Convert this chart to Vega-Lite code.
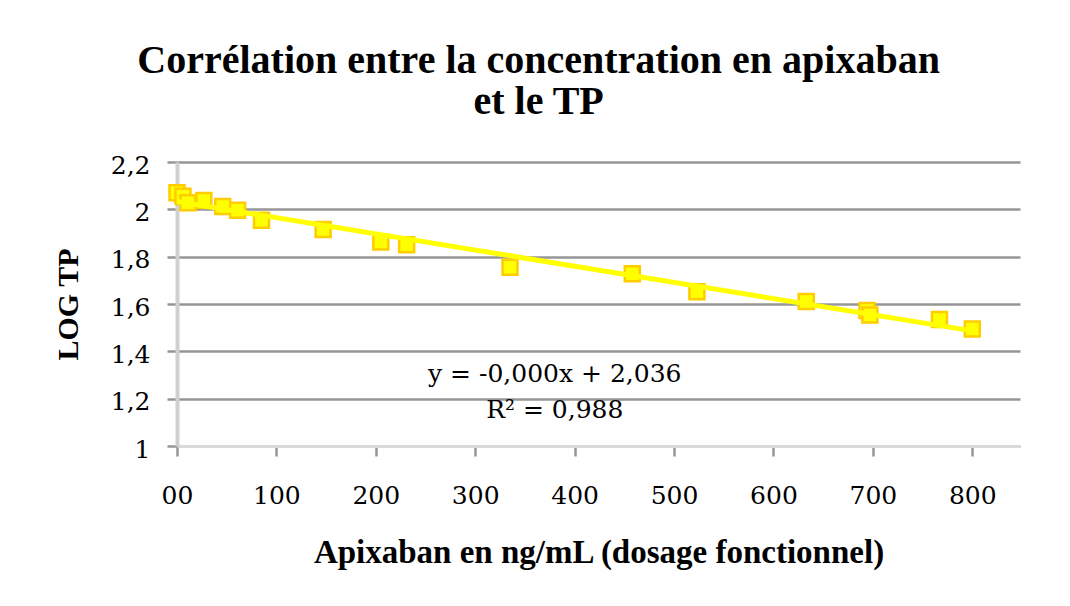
{
  "$schema": "https://vega.github.io/schema/vega-lite/v6.json",
  "autosize": {"type": "none"},
  "width": 843,
  "height": 284,
  "padding": {"left": 177, "top": 162, "right": 50, "bottom": 160},
  "background": "white",
  "title": {
    "text": ["Corrélation entre la concentration en apixaban", "et le TP"],
    "font": "Liberation Serif",
    "fontWeight": "bold",
    "fontSize": 40,
    "lineHeight": 41,
    "color": "black",
    "anchor": "middle",
    "frame": "bounds",
    "dx": 2,
    "offset": 31
  },
  "data": {
    "values": [
      {"apixaban": 0, "logtp": 2.07},
      {"apixaban": 6, "logtp": 2.055},
      {"apixaban": 11, "logtp": 2.028},
      {"apixaban": 27, "logtp": 2.037},
      {"apixaban": 46, "logtp": 2.012},
      {"apixaban": 61, "logtp": 1.996},
      {"apixaban": 85, "logtp": 1.954},
      {"apixaban": 147, "logtp": 1.915},
      {"apixaban": 205, "logtp": 1.862},
      {"apixaban": 231, "logtp": 1.85},
      {"apixaban": 335, "logtp": 1.755},
      {"apixaban": 458, "logtp": 1.728},
      {"apixaban": 523, "logtp": 1.652},
      {"apixaban": 633, "logtp": 1.611},
      {"apixaban": 694, "logtp": 1.573},
      {"apixaban": 697, "logtp": 1.554},
      {"apixaban": 767, "logtp": 1.535},
      {"apixaban": 800, "logtp": 1.494}
    ]
  },
  "layer": [
    {
      "mark": {"type": "point", "shape": "square", "filled": true, "size": 225, "fill": "#FFFF00", "stroke": "#FFCC00", "strokeWidth": 2.5, "opacity": 1, "clip": false},
      "encoding": {
        "x": {
          "field": "apixaban", "type": "quantitative",
          "scale": {"domain": [0, 848], "nice": false, "zero": false},
          "axis": {
            "values": [0, 100, 200, 300, 400, 500, 600, 700, 800],
            "labelExpr": "datum.value == 0 ? '00' : datum.label",
            "grid": false,
            "domainColor": "#d9d9d9", "domainWidth": 3,
            "tickColor": "#969696", "tickWidth": 2.5, "tickSize": 10,
            "labelFont": "DejaVu Serif", "labelFontSize": 25, "labelColor": "black",
            "labelPadding": 27, "labelFlush": false,
            "title": "Apixaban en ng/mL (dosage fonctionnel)",
            "titleFont": "Liberation Serif", "titleFontWeight": "bold", "titleFontSize": 33, "titleColor": "black",
            "titlePadding": 28
          }
        },
        "y": {
          "field": "logtp", "type": "quantitative",
          "scale": {"domain": [1, 2.2], "nice": false, "zero": false},
          "axis": {
            "values": [1, 1.2, 1.4, 1.6, 1.8, 2, 2.2],
            "format": ".1~f",
            "labelExpr": "replace(datum.label, '.', ',')",
            "grid": true, "gridColor": "#969696", "gridWidth": 2.5,
            "domainColor": "#d0d0d0", "domainWidth": 4,
            "tickColor": "#969696", "tickWidth": 2.5, "tickSize": 10,
            "labelFont": "DejaVu Serif", "labelFontSize": 25, "labelColor": "black",
            "labelPadding": 17, "labelOffset": 3, "labelFlush": false,
            "title": "LOG TP",
            "titleFont": "Liberation Serif", "titleFontWeight": "bold", "titleFontSize": 30, "titleColor": "black",
            "titlePadding": 27
          }
        }
      }
    },
    {
      "transform": [{"regression": "logtp", "on": "apixaban", "extent": [0, 800]}],
      "mark": {"type": "line", "color": "#FFFF00", "strokeWidth": 5},
      "encoding": {
        "x": {"field": "apixaban", "type": "quantitative"},
        "y": {"field": "logtp", "type": "quantitative"}
      }
    },
    {
      "data": {"values": [{"equation": "y = -0,000x + 2,036", "r2": "R² = 0,988"}]},
      "mark": {"type": "text", "font": "DejaVu Serif", "fontSize": 25, "color": "black", "align": "center", "baseline": "middle", "lineHeight": 36, "lineBreak": "\n"},
      "encoding": {
        "x": {"datum": 380, "type": "quantitative"},
        "y": {"datum": 1.306, "type": "quantitative"},
        "text": {"value": "y = -0,000x + 2,036\nR² = 0,988"}
      }
    }
  ],
  "config": {
    "view": {"stroke": null}
  }
}
